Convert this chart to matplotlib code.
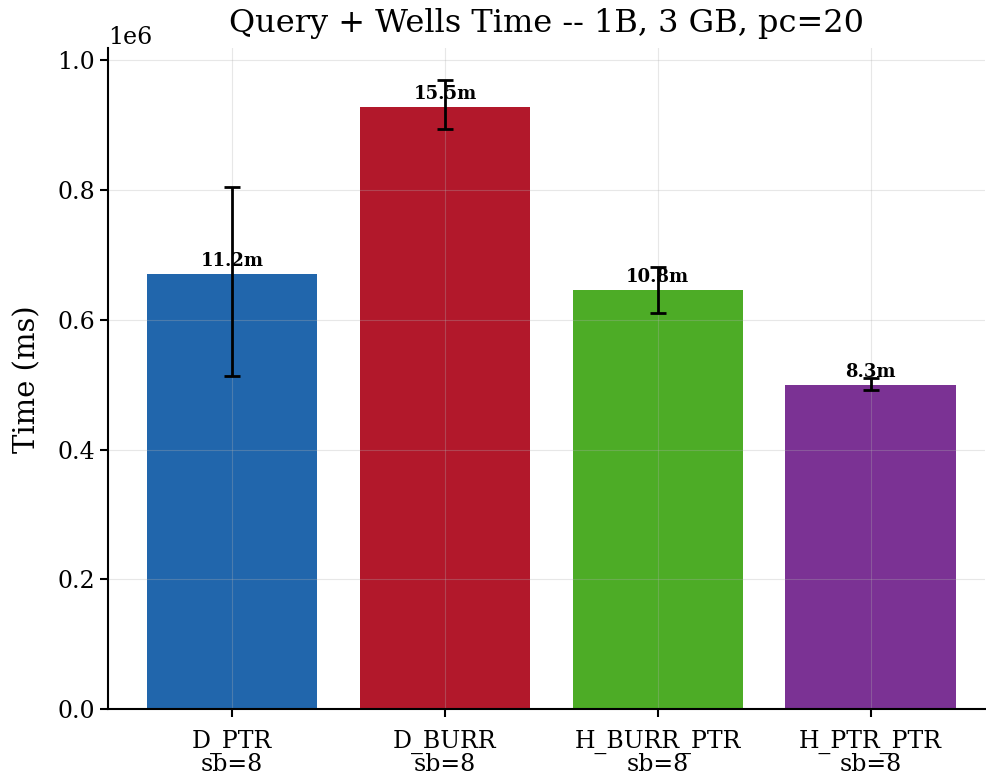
import numpy as np
import matplotlib
matplotlib.use("Agg")
import matplotlib.pyplot as plt

plt.rcParams['font.family'] = 'DejaVu Serif'

# mean query+wells time per config (ms) and spread around it
configs = ["D_PTR", "D_BURR", "H_BURR_PTR", "H_PTR_PTR"]
sb_labels = ["sb=8", "sb=8", "sb=8", "sb=8"]
mean_ms = [670000, 928000, 645500, 499000]
err_low = [156000, 34000, 34500, 7000]
err_high = [134500, 41700, 35500, 11000]
colors = ["#2166ac", "#b2182b", "#4dac26", "#7b3294"]

fig = plt.figure(figsize=(9.87, 7.8), dpi=100)
ax = fig.add_axes([0.1094, 0.0906, 0.889, 0.8474])

x = np.arange(len(configs))
bars = ax.bar(x, mean_ms, width=0.8, color=colors)
ax.errorbar(x, mean_ms, yerr=[err_low, err_high], fmt='none',
            ecolor='black', elinewidth=2, capsize=6, capthick=2)

for xi, v in zip(x, mean_ms):
    ax.annotate(f"{v/60000:.1f}m", (xi, v), xytext=(0, 3),
                textcoords='offset points', ha='center', va='bottom',
                fontsize=13, fontweight='bold')

ax.set_xticks(x)
ax.set_xticklabels([f"{c}\n{s}" for c, s in zip(configs, sb_labels)],
                   fontsize=17, linespacing=0.95)
ax.tick_params(axis='y', labelsize=17)
ax.tick_params(length=6, width=1.5)
ax.tick_params(axis='x', pad=9)
ax.yaxis.get_offset_text().set_fontsize(17)
ax.set_ylabel("Time (ms)", fontsize=21, labelpad=11)
ax.set_title("Query + Wells Time -- 1B, 3 GB, pc=20", fontsize=23, pad=12)
ax.set_xlim(-0.584, 3.54)
ax.grid(True, alpha=0.3)
ax.spines['top'].set_visible(False)
ax.spines['right'].set_visible(False)
for s in ['left', 'bottom']:
    ax.spines[s].set_linewidth(1.5)

fig.savefig("out.png", dpi=100)
